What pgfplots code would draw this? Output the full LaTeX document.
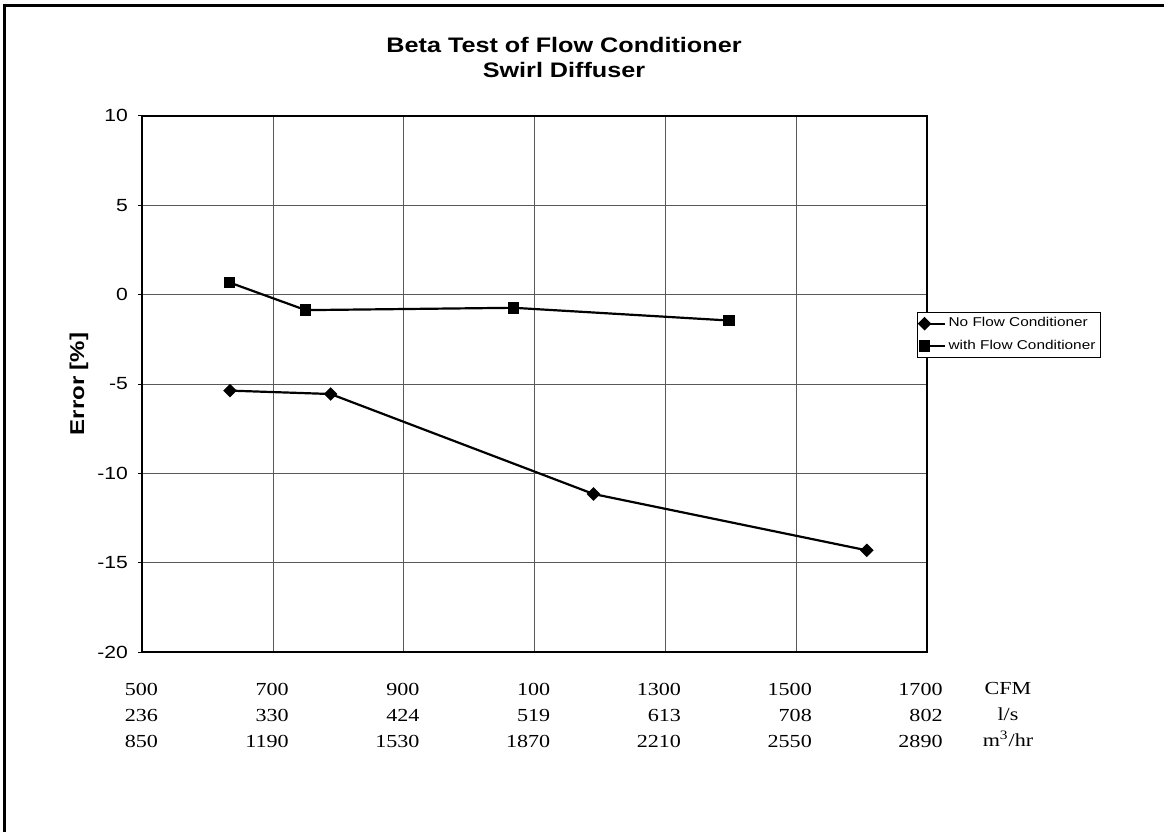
\documentclass[border=0pt]{standalone}
\usepackage{fontspec}
\setmainfont{Liberation Sans}[FakeStretch=1.2]
\newfontfamily\tnr{Liberation Serif}[FakeStretch=1.2]
\usepackage{pgfplots}
\pgfplotsset{compat=1.18}
\begin{document}
\begin{tikzpicture}
\path[use as bounding box] (0pt,0pt) rectangle (582pt,416pt);
\draw[line width=1.5pt] (2pt,0pt) -- (2pt,413pt) -- (582pt,413pt);
\node[anchor=base, font=\bfseries\fontsize{10.5}{12}\selectfont] at (282pt,389.5pt) {Beta Test of Flow Conditioner};
\node[anchor=base, font=\bfseries\fontsize{10.5}{12}\selectfont] at (282pt,377pt) {Swirl Diffuser};
\node[rotate=90, font=\bfseries\fontsize{10}{12}\selectfont] at (39.5pt,224pt) {Error [\%]};
\begin{axis}[
  at={(71.15pt,89.85pt)}, anchor=south west,
  scale only axis, width=392.35pt, height=268.3pt,
  xmin=500, xmax=1700, ymin=-20, ymax=10,
  xtick={500,700,...,1700}, ytick={-20,-15,...,10},
  xticklabels={{500\\236\\850},{700\\330\\1190},{900\\424\\1530},{100\\519\\1870},{1300\\613\\2210},{1500\\708\\2550},{1700\\802\\2890}},
  xticklabel style={font=\tnr\fontsize{9.2}{13}\selectfont, align=right, anchor=north east, inner sep=0pt, xshift=8pt, yshift=-13.5pt},
  yticklabel style={font=\fontsize{8.8}{10}\selectfont, anchor=east, inner sep=0pt, xshift=-5pt},
  /pgf/number format/assume math mode=true,
  grid=major, grid style={line width=0.5pt, black!65},
  axis line style={line width=1pt},
  xtick style={draw=none},
  ytick pos=left, tick align=outside, major tick length=2pt,
  ytick style={line width=0.5pt, black},
  clip=false,
  legend style={at={(rel axis cs:0.987,0.634)}, anchor=north west, draw=black, line width=0.5pt,
    font=\fontsize{6.4}{7}\selectfont, inner xsep=1pt, inner ysep=1pt, row sep=2pt,
    nodes={inner sep=1.5pt}},
  legend cell align=left,
  legend image code/.code={\draw[mark indices={1},#1] plot coordinates {(0pt,0pt) (10pt,0pt)};},
]
\addplot[black, line width=1.1pt, mark=square*, mark size=1.85pt, mark options={solid, rotate=45}] coordinates {
(634,-5.37) (788,-5.56) (1190,-11.15) (1608,-14.3)};
\addlegendentry{No Flow Conditioner}
\addplot[black, line width=1.1pt, mark=square*, mark size=2.3pt, mark options={solid}] coordinates {
(633,0.68) (750,-0.87) (1068,-0.74) (1397,-1.45)};
\addlegendentry{with Flow Conditioner}
\node[anchor=north, align=center, inner sep=0pt, font=\tnr\fontsize{9.2}{13}\selectfont, xshift=40.5pt, yshift=-15pt] at (rel axis cs:1,0) {CFM\\l/s\\m\textsuperscript{3}/hr};
\end{axis}
\end{tikzpicture}
\end{document}
